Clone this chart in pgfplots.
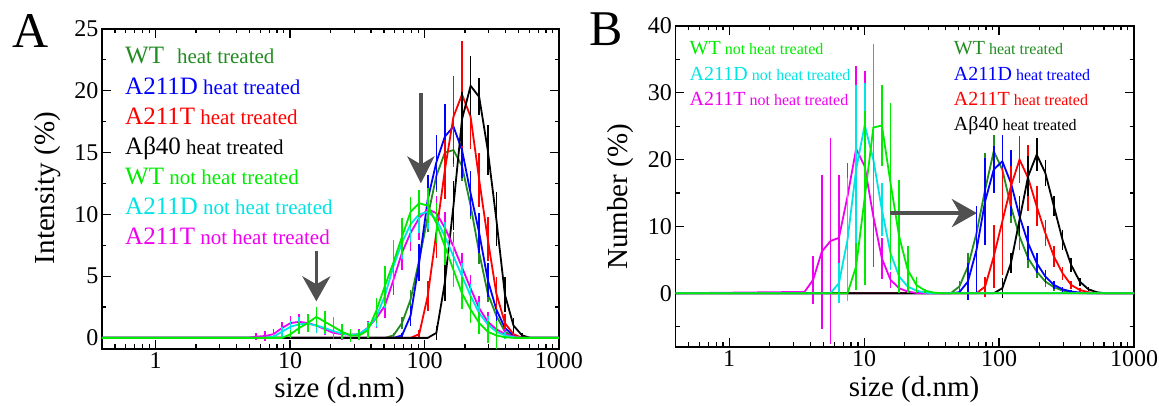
\documentclass[border=0pt]{standalone}
\usepackage{fontspec}
\setmainfont{Liberation Serif}
\usepackage{pgfplots}
\pgfplotsset{compat=1.18}
\usetikzlibrary{arrows.meta}

\definecolor{dgreen}{RGB}{34,139,34}
\definecolor{lgreen}{RGB}{0,235,0}
\definecolor{mycyan}{RGB}{0,228,228}
\definecolor{mymag}{RGB}{240,0,240}
\definecolor{myblue}{RGB}{0,0,255}
\definecolor{myred}{RGB}{255,0,0}
\definecolor{arrowgray}{RGB}{80,80,80}

\pgfplotsset{
  dls/.style={color=#1, line width=1.8pt, mark=none,
    error bars/.cd, y dir=both, y explicit, error mark=none,
    error bar style={line width=1.6pt}},
}

\begin{document}
\begin{tikzpicture}
\useasboundingbox (0pt,0pt) rectangle (1159pt,406pt);

% ---------- panel A : intensity ----------
\begin{axis}[scale only axis, xmode=log, xmin=0.4, xmax=1000,
  at={(102pt,57pt)}, anchor=south west, width=457pt, height=320pt,
  ymin=-0.9, ymax=25, ytick={0,5,10,15,20,25}, minor ytick={2.5,7.5,12.5,17.5,22.5},
  xtick={1,10,100,1000}, xticklabels={1,10,100,1000},
  minor xtick={0.5,0.6,0.7,0.8,0.9,2,3,4,5,6,7,8,9,20,30,40,50,60,70,80,90,200,300,400,500,600,700,800,900},
  tick align=inside, major tick length=9pt, minor tick length=4.5pt,
  tick style={black, line width=1.2pt}, axis line style={line width=1.7pt},
  tick label style={font=\fontsize{24}{24}\selectfont},
  /pgf/number format/assume math mode=true]
\addplot[dls=dgreen] table[x=x, y=y, y error=e, row sep=\\] {x y e\\ 0.4 0 0\\ 50.75 0 0\\ 58.77 0.2 0.2\\ 68.06 1.2 0.5\\ 78.82 3.1 0.8\\ 91.28 6.3 1.0\\ 105.7 9.8 1.2\\ 122.4 13.1 1.3\\ 141.8 15.0 1.2\\ 164.2 15.2 1.4\\ 190.1 13.9 1.2\\ 220.2 10.7 1.1\\ 255.0 6.9 0.9\\ 295.3 3.6 0.7\\ 342.0 1.8 0.5\\ 396.1 0.5 0.3\\ 458.7 0.1 0.1\\ 531.2 0 0\\ 1000 0 0\\};
\addplot[dls=myblue] table[x=x, y=y, y error=e, row sep=\\] {x y e\\ 0.4 0 0\\ 58.77 0 0\\ 68.06 0.2 0.2\\ 78.82 1.8 0.8\\ 91.28 6.1 1.5\\ 105.7 11.2 2.0\\ 122.4 14.2 2.2\\ 141.8 16.3 2.6\\ 164.2 17.1 3.0\\ 190.1 15.2 2.3\\ 220.2 11.7 1.8\\ 255.0 8.5 1.6\\ 295.3 4.7 1.4\\ 342.0 2.3 0.9\\ 396.1 0.8 0.5\\ 458.7 0.2 0.2\\ 531.2 0 0\\ 1000 0 0\\};
\addplot[dls=myred] table[x=x, y=y, y error=e, row sep=\\] {x y e\\ 0.4 0 0\\ 78.82 0 0\\ 91.28 0.3 0.3\\ 105.7 3.4 1.2\\ 122.4 8.5 2.0\\ 141.8 13.6 2.4\\ 164.2 17.9 3.3\\ 190.1 19.7 4.3\\ 220.2 17.9 2.6\\ 255.0 12.8 2.2\\ 295.3 8.0 1.8\\ 342.0 3.6 1.3\\ 396.1 1.2 0.7\\ 458.7 0.3 0.3\\ 531.2 0 0\\ 1000 0 0\\};
\addplot[dls=black] table[x=x, y=y, y error=e, row sep=\\] {x y e\\ 0.4 0 0\\ 105.7 0 0\\ 122.4 0.4 0.6\\ 141.8 4.5 1.5\\ 164.2 10.7 2.0\\ 190.1 17.7 2.2\\ 220.2 20.4 2.4\\ 255.0 19.5 1.5\\ 295.3 15.2 2.0\\ 342.0 9.6 2.2\\ 396.1 3.5 1.4\\ 458.7 1.0 0.6\\ 531.2 0.2 0.2\\ 615.1 0 0\\ 1000 0 0\\};
\addplot[dls=mymag] table[x=x, y=y, y error=e, row sep=\\] {x y e\\ 0.4 0 0\\ 4.849 0 0\\ 5.615 0.1 0.3\\ 6.503 0.15 0.4\\ 7.531 0.3 0.4\\ 8.721 0.8 0.5\\ 10.10 1.2 0.6\\ 11.70 1.3 0.6\\ 13.54 1.2 0.6\\ 15.69 1.0 0.6\\ 18.17 0.7 0.5\\ 21.04 0.4 0.5\\ 24.36 0.3 0.5\\ 28.21 0.25 0.4\\ 32.67 0.3 0.4\\ 37.84 0.8 0.6\\ 43.82 1.6 0.8\\ 50.75 2.6 1.0\\ 58.77 4.7 1.2\\ 68.06 6.9 1.4\\ 78.82 8.5 1.5\\ 91.28 9.7 1.8\\ 105.7 10.4 1.5\\ 122.4 10.1 1.4\\ 141.8 8.9 1.3\\ 164.2 7.4 1.2\\ 190.1 5.7 1.2\\ 220.2 4.0 1.1\\ 255.0 2.4 1.0\\ 295.3 1.3 0.8\\ 342.0 0.7 0.6\\ 396.1 0.3 0.4\\ 458.7 0.1 0.2\\ 531.2 0 0\\ 1000 0 0\\};
\addplot[dls=mycyan] table[x=x, y=y, y error=e, row sep=\\] {x y e\\ 0.4 0 0\\ 6.503 0 0\\ 7.531 0.1 0.2\\ 8.721 0.5 0.4\\ 10.10 0.9 0.5\\ 11.70 1.1 0.6\\ 13.54 1.15 0.6\\ 15.69 1.0 0.6\\ 18.17 0.8 0.5\\ 21.04 0.55 0.5\\ 24.36 0.35 0.4\\ 28.21 0.25 0.3\\ 32.67 0.3 0.3\\ 37.84 0.8 0.5\\ 43.82 1.7 0.8\\ 50.75 3.4 1.0\\ 58.77 5.8 1.2\\ 68.06 7.7 1.3\\ 78.82 9.2 1.4\\ 91.28 10.0 1.5\\ 105.7 10.2 1.4\\ 122.4 9.6 1.3\\ 141.8 8.2 1.2\\ 164.2 6.6 1.2\\ 190.1 5.0 1.1\\ 220.2 3.4 1.0\\ 255.0 2.0 0.9\\ 295.3 1.1 0.7\\ 342.0 0.5 0.5\\ 396.1 0.2 0.3\\ 458.7 0.05 0.1\\ 531.2 0 0\\ 1000 0 0\\};
\addplot[dls=lgreen] table[x=x, y=y, y error=e, row sep=\\] {x y e\\ 0.4 0 0\\ 8.721 0 0\\ 10.10 0.3 0.3\\ 11.70 0.8 0.5\\ 13.54 1.2 0.7\\ 15.69 1.7 0.8\\ 18.17 1.3 0.9\\ 21.04 0.9 0.8\\ 24.36 0.5 0.6\\ 28.21 0.2 0.5\\ 32.67 0.2 0.4\\ 37.84 0.6 0.6\\ 43.82 2.2 1.0\\ 50.75 4.2 1.6\\ 58.77 6.1 1.8\\ 68.06 8.2 1.5\\ 78.82 10.2 1.2\\ 91.28 10.9 1.1\\ 105.7 10.7 1.4\\ 122.4 9.3 1.6\\ 141.8 7.4 1.5\\ 164.2 5.5 1.4\\ 190.1 3.6 1.3\\ 220.2 2.3 1.1\\ 255.0 1.2 0.9\\ 295.3 0.5 0.9\\ 342.0 0.2 1.2\\ 396.1 0.05 0.1\\ 458.7 0 0\\ 1000 0 0\\};
\draw[arrowgray, line width=3.5pt, -{Stealth[length=27pt, width=27pt, inset=8pt]}] (axis cs:94,19.8) -- (axis cs:94,12.5);
\draw[arrowgray, line width=3.5pt, -{Stealth[length=25pt, width=28pt, inset=8pt]}] (axis cs:15.7,7.0) -- (axis cs:15.7,2.96);
\end{axis}

% ---------- panel B : number ----------
\begin{axis}[scale only axis, xmode=log, xmin=0.4, xmax=1000,
  at={(675.5pt,59.3pt)}, anchor=south west, width=458.5pt, height=320.7pt,
  ymin=-8, ymax=40, ytick={0,10,20,30,40}, minor ytick={-5,5,15,25,35},
  xtick={1,10,100,1000}, xticklabels={1,10,100,1000},
  minor xtick={0.5,0.6,0.7,0.8,0.9,2,3,4,5,6,7,8,9,20,30,40,50,60,70,80,90,200,300,400,500,600,700,800,900},
  tick align=inside, major tick length=9pt, minor tick length=4.5pt,
  tick style={black, line width=1.2pt}, axis line style={line width=1.7pt},
  tick label style={font=\fontsize{24}{24}\selectfont},
  /pgf/number format/assume math mode=true]
\addplot[dls=dgreen] table[x=x, y=y, y error=e, row sep=\\] {x y e\\ 0.4 0 0\\ 43.82 0 0\\ 50.75 1.0 0.8\\ 58.77 4.0 2.0\\ 68.06 9.0 3.0\\ 78.82 15.5 5.5\\ 91.28 21.25 2.5\\ 105.7 18.5 3.0\\ 122.4 13.0 2.5\\ 141.8 8.5 2.0\\ 164.2 5.25 1.5\\ 190.1 3.25 1.0\\ 220.2 1.75 0.8\\ 255.0 0.9 0.5\\ 295.3 0.4 0.3\\ 342.0 0.15 0.1\\ 396.1 0 0\\ 1000 0 0\\};
\addplot[dls=myblue] table[x=x, y=y, y error=e, row sep=\\] {x y e\\ 0.4 0 0\\ 43.82 0 0\\ 50.75 0.15 0\\ 58.77 1.75 2.75\\ 68.06 6.5 6.5\\ 78.82 13.75 6.5\\ 91.28 18.5 3.5\\ 105.7 19.75 4.0\\ 122.4 16.5 5.0\\ 141.8 11.5 3.0\\ 164.2 7.5 2.5\\ 190.1 4.5 1.5\\ 220.2 2.5 1.0\\ 255.0 1.25 0.6\\ 295.3 0.6 0.4\\ 342.0 0.25 0.2\\ 396.1 0.1 0\\ 458.7 0 0\\ 1000 0 0\\};
\addplot[dls=myred] table[x=x, y=y, y error=e, row sep=\\] {x y e\\ 0.4 0 0\\ 68.06 0 0\\ 78.82 1.0 1.5\\ 91.28 5.5 4.7\\ 105.7 10.75 8.0\\ 122.4 16.0 3.0\\ 141.8 20.0 3.5\\ 164.2 17.25 5.0\\ 190.1 13.0 3.0\\ 220.2 9.0 2.0\\ 255.0 5.5 1.5\\ 295.3 3.0 1.0\\ 342.0 1.25 0.6\\ 396.1 0.5 0.3\\ 458.7 0.15 0.1\\ 531.2 0 0\\ 1000 0 0\\};
\addplot[dls=black] table[x=x, y=y, y error=e, row sep=\\] {x y e\\ 0.4 0 0\\ 91.28 0 0\\ 105.7 0.75 1.5\\ 122.4 4.5 1.5\\ 141.8 11.0 2.0\\ 164.2 17.5 3.0\\ 190.1 20.75 2.5\\ 220.2 18.0 2.0\\ 255.0 13.0 1.5\\ 295.3 8.0 1.5\\ 342.0 4.25 1.0\\ 396.1 1.75 0.6\\ 458.7 0.6 0.3\\ 531.2 0.15 0\\ 615.1 0 0\\ 1000 0 0\\};
\addplot[dls=mymag] table[x=x, y=y, y error=e, row sep=\\] {x y e\\ 0.4 0 0\\ 3.615 0.2 0\\ 4.187 2.0 3.6\\ 4.849 6.2 11.5\\ 5.615 7.8 15.4\\ 6.503 8.3 9.4\\ 7.531 14.5 5.0\\ 8.721 21.6 12.4\\ 10.10 19.0 14.2\\ 11.70 11.5 7.5\\ 13.54 5.2 3.0\\ 15.69 2.0 1.2\\ 18.17 0.75 0.5\\ 21.04 0.25 0.2\\ 24.36 0.05 0\\ 28.21 0 0\\ 1000 0 0\\};
\addplot[dls=mycyan] table[x=x, y=y, y error=e, row sep=\\] {x y e\\ 0.4 0 0\\ 5.615 0 0\\ 6.503 1.5 3.0\\ 7.531 8.0 9.2\\ 8.721 18.5 12.7\\ 10.10 25.2 6.3\\ 11.70 20.0 5.0\\ 13.54 12.5 4.0\\ 15.69 6.0 2.5\\ 18.17 2.5 1.0\\ 21.04 1.0 0.5\\ 24.36 0.4 0.2\\ 28.21 0.1 0\\ 32.67 0 0\\ 1000 0 0\\};
\addplot[dls=lgreen] table[x=x, y=y, y error=e, row sep=\\] {x y e\\ 0.4 0 0\\ 7.531 0 0\\ 8.721 4.0 3.5\\ 10.10 14.3 13.0\\ 11.70 24.8 12.5\\ 13.54 25.1 6.0\\ 15.69 16.5 12.0\\ 18.17 8.5 8.5\\ 21.04 3.5 3.5\\ 24.36 1.25 1.2\\ 28.21 0.4 0.3\\ 32.67 0.1 0\\ 37.84 0 0\\ 1000 0 0\\};
\draw[arrowgray, line width=4.5pt, -{Stealth[length=25pt, width=28pt, inset=8pt]}] (axis cs:15.5,12) -- (axis cs:68.5,12);
\end{axis}

% ---------- panel letters and axis titles ----------
\node[anchor=north west, inner sep=0pt, font=\fontsize{50}{50}\selectfont] at (12pt,392pt) {A};
\node[anchor=north west, inner sep=0pt, font=\fontsize{50}{50}\selectfont] at (589pt,393pt) {B};
\node[rotate=90, font=\fontsize{29}{29}\selectfont] at (48pt,218pt) {Intensity (\%)};
\node[rotate=90, font=\fontsize{29}{29}\selectfont] at (620.6pt,209pt) {Number (\%)};
\node[font=\fontsize{29}{29}\selectfont] at (339.6pt,15pt) {size (d.nm)};
\node[font=\fontsize{29}{29}\selectfont] at (914pt,16pt) {size (d.nm)};

% ---------- legend text, panel A ----------
\newcommand{\la}[2]{{\fontsize{25}{25}\selectfont #1}{\fontsize{21}{21}\selectfont #2}}
\node[anchor=base west, inner sep=0pt, text=dgreen] at (125pt,342.5pt) {\la{WT}{\hspace{13pt}heat treated}};
\node[anchor=base west, inner sep=0pt, text=myblue] at (125pt,311.5pt) {\la{A211D}{ heat treated}};
\node[anchor=base west, inner sep=0pt, text=myred] at (125pt,281.5pt) {\la{A211T}{ heat treated}};
\node[anchor=base west, inner sep=0pt, text=black] at (125pt,251.5pt) {\la{Aβ40}{ heat treated}};
\node[anchor=base west, inner sep=0pt, text=lgreen] at (125pt,221.5pt) {\la{WT}{ not heat treated}};
\node[anchor=base west, inner sep=0pt, text=mycyan] at (125pt,191.5pt) {\la{A211D}{ not heat treated}};
\node[anchor=base west, inner sep=0pt, text=mymag] at (125pt,161.5pt) {\la{A211T}{ not heat treated}};

% ---------- legend text, panel B ----------
\newcommand{\lb}[2]{{\fontsize{20}{20}\selectfont #1}{\fontsize{16}{16}\selectfont #2}}
\node[anchor=base west, inner sep=0pt, text=lgreen] at (689.5pt,351pt) {\lb{WT}{ not heat treated}};
\node[anchor=base west, inner sep=0pt, text=mycyan] at (689.5pt,325pt) {\lb{A211D}{ not heat treated}};
\node[anchor=base west, inner sep=0pt, text=mymag] at (689.5pt,300pt) {\lb{A211T}{ not heat treated}};
\node[anchor=base west, inner sep=0pt, text=dgreen] at (953.7pt,351pt) {\lb{WT}{ heat treated}};
\node[anchor=base west, inner sep=0pt, text=myblue] at (953.7pt,325pt) {\lb{A211D}{ heat treated}};
\node[anchor=base west, inner sep=0pt, text=myred] at (953.7pt,300pt) {\lb{A211T}{ heat treated}};
\node[anchor=base west, inner sep=0pt, text=black] at (953.7pt,275pt) {\lb{Aβ40}{ heat treated}};
\end{tikzpicture}
\end{document}
